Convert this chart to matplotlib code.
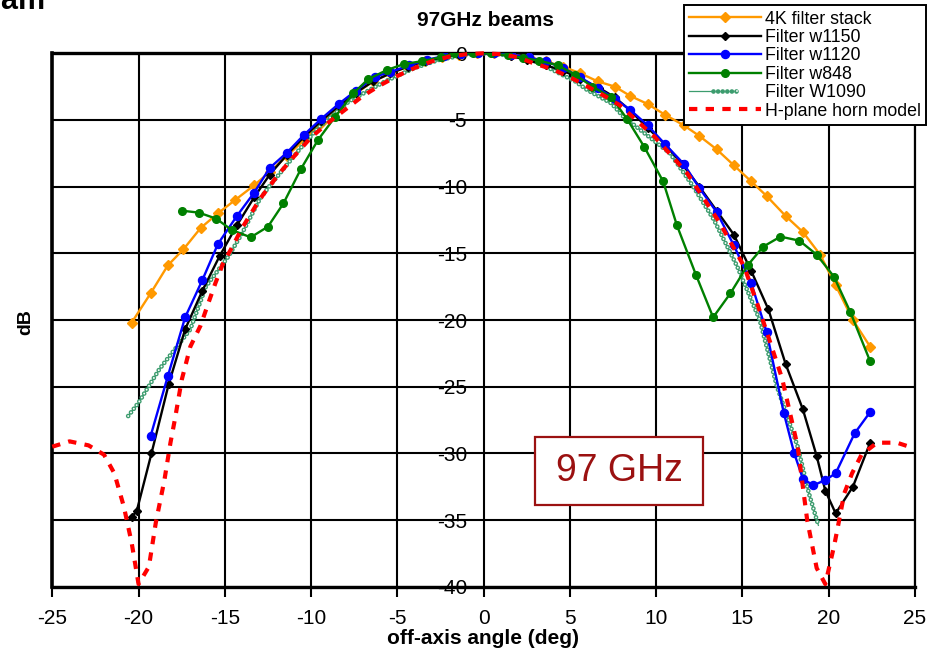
import matplotlib
matplotlib.use("Agg")
import matplotlib.pyplot as plt
from matplotlib.patches import Rectangle
from matplotlib.legend_handler import HandlerTuple

plt.rcParams['font.family'] = ['Liberation Sans', 'DejaVu Sans']
plt.rcParams['lines.scale_dashes'] = False

# ---------------- data ----------------
stack_x = [-20.4, -19.3, -18.3, -17.4, -16.4, -15.4, -14.4, -13.3, -12.4, -11.4, -10.4, -9.4, -8.4, -7.4,
           -6.4, -5.4, -4.4, -3.4, -2.4, -1.4, -0.4, 0.6, 1.6, 2.6, 3.6, 4.6, 5.6, 6.6, 7.6, 8.5, 9.5, 10.5,
           11.6, 12.5, 13.5, 14.5, 15.5, 16.4, 17.5, 18.5, 19.5, 20.4, 21.4, 22.4]
stack_y = [-20.2, -18.0, -15.9, -14.7, -13.1, -12.0, -11.0, -9.9, -8.9, -7.7, -6.5, -5.2, -4.0, -3.0,
           -2.1, -1.5, -1.0, -0.6, -0.3, -0.1, 0.0, 0.0, -0.1, -0.3, -0.6, -1.0, -1.5, -2.1, -2.5, -3.2, -3.8, -4.6,
           -5.4, -6.2, -7.2, -8.4, -9.6, -10.7, -12.2, -13.4, -15.1, -17.4, -20.0, -22.0]

w1150_x = [-20.4, -20.1, -19.25, -18.25, -17.3, -16.3, -15.3, -14.3, -13.3, -12.4, -11.4, -10.4, -9.4, -8.4,
           -7.4, -6.4, -5.4, -4.4, -3.4, -2.4, -1.4, -0.4, 0.6, 1.6, 2.5, 3.6, 4.6, 5.6, 6.7, 7.6, 8.5, 9.5,
           10.5, 11.5, 12.5, 13.5, 14.5, 15.5, 16.5, 17.5, 18.5, 19.3, 19.8, 20.4, 21.4, 22.4]
w1150_y = [-34.8, -34.3, -30.0, -24.8, -20.7, -17.8, -15.2, -12.9, -10.8, -9.1, -7.6, -6.25, -5.05, -3.95,
           -2.95, -2.1, -1.5, -1.0, -0.6, -0.3, -0.1, 0.0, 0.0, -0.2, -0.5, -0.9, -1.3, -1.9, -2.6, -3.3, -4.3, -5.6,
           -6.8, -8.3, -10.0, -11.8, -13.6, -16.3, -19.2, -23.3, -26.7, -30.2, -32.8, -34.5, -32.5, -29.2]

w1120_x = [-19.3, -18.3, -17.3, -16.3, -15.4, -14.3, -13.3, -12.4, -11.4, -10.4, -9.4, -8.4, -7.4, -6.3,
           -5.4, -4.3, -3.3, -2.3, -1.3, -0.3, 0.6, 1.6, 2.6, 3.6, 4.6, 5.6, 6.6, 7.6, 8.5, 9.5, 10.5, 11.6,
           12.5, 13.5, 14.5, 15.5, 16.4, 17.4, 18.0, 18.5, 19.1, 19.8, 20.4, 21.5, 22.4]
w1120_y = [-28.7, -24.2, -19.8, -17.0, -14.3, -12.2, -10.45, -8.6, -7.45, -6.1, -4.9, -3.8, -2.8, -1.75,
           -1.4, -0.9, -0.5, -0.2, -0.05, 0.0, 0.0, -0.1, -0.3, -0.6, -1.1, -1.8, -2.6, -3.4, -4.25, -5.4, -6.8, -8.3,
           -10.1, -11.9, -14.4, -17.2, -20.9, -27.0, -30.0, -31.9, -32.4, -32.0, -31.5, -28.5, -26.9]

w848_x = [-17.5, -16.5, -15.5, -14.6, -13.5, -12.5, -11.6, -10.6, -9.6, -8.6, -7.55, -6.7, -5.6, -4.6,
          -3.6, -2.5, -1.7, -0.6, 0.4, 1.4, 2.3, 3.2, 4.3, 5.3, 6.3, 7.4, 8.3, 9.3, 10.4, 11.2, 12.3, 13.3,
          14.3, 15.3, 16.2, 17.2, 18.3, 19.3, 20.3, 21.25, 22.4]
w848_y = [-11.8, -11.95, -12.4, -13.25, -13.8, -13.0, -11.25, -8.7, -6.5, -4.75, -3.0, -1.95, -1.25, -0.8,
          -0.6, -0.3, 0.0, 0.0, 0.0, -0.15, -0.35, -0.55, -0.9, -1.6, -2.5, -3.3, -4.9, -7.0, -9.6, -12.9, -16.6, -19.8,
          -18.0, -15.9, -14.5, -13.75, -14.05, -15.1, -16.75, -19.4, -23.1]

w1090_x = [-20.6, -20.0, -18.8, -17.9, -17.0, -16.1, -14.8, -14.0, -13.0, -12.5, -10.7, -9.6, -7.8, -5.7,
           -4.0, -2.6, -1.0, 0.0, 1.5, 3.0, 5.3, 6.0, 7.4, 8.1, 10.8, 12.1, 13.35, 14.7, 16.0, 17.0, 18.2,
           18.85, 19.4]
w1090_y = [-27.2, -26.2, -23.7, -22.2, -20.7, -17.5, -15.25, -13.5, -11.0, -10.1, -7.25, -5.6, -3.6, -2.1,
           -1.1, -0.5, -0.1, 0.0, -0.15, -0.6, -2.1, -2.75, -3.75, -4.75, -7.5, -9.9, -12.5, -16.0, -20.0, -25.0, -29.5,
           -33.0, -35.4]

horn_x = [-25.0, -24.0, -22.9, -22.0, -21.4, -20.85, -20.4, -20.0, -19.4, -19.0, -18.5, -18.15, -17.9, -17.5,
          -17.0, -16.4, -16.0, -15.55, -15.1, -14.6, -14.0, -12.95, -11.9, -11.0, -10.0, -9.0, -8.0, -7.0, -6.0,
          -5.0, -4.0, -3.0, -2.0, -1.0, 0.0, 1.0, 2.0, 2.9, 4.0, 5.0, 5.9, 7.0, 7.9, 9.9, 11.8, 13.7, 15.1, 16.05,
          17.3, 18.2, 18.75, 19.3, 19.8, 20.3, 20.5, 20.9, 21.35, 21.9, 22.8, 23.95, 24.9]
horn_y = [-29.5, -29.1, -29.4, -30.1, -31.5, -34.0, -36.7, -39.8, -38.5, -35.2, -32.0, -29.2, -27.5, -24.5,
          -22.0, -20.4, -18.9, -17.25, -15.75, -14.6, -13.1, -10.9, -9.1, -7.75, -6.3, -5.2, -4.2, -3.2, -2.4,
          -1.7, -1.1, -0.6, -0.25, -0.07, 0.0, -0.07, -0.3, -0.75, -1.2, -1.8, -2.4, -3.2, -3.9, -6.25, -9.0, -12.75,
          -16.0, -19.5, -24.4, -29.5, -35.0, -38.6, -39.8, -37.0, -35.7, -33.0, -31.5, -30.1, -29.2, -29.2, -29.6]

labels = ["4K filter stack", "Filter w1150", "Filter w1120", "Filter w848", "Filter W1090", "H-plane horn model"]
x_ticks = [-25, -20, -15, -10, -5, 0, 5, 10, 15, 20, 25]
y_ticks = [0, -5, -10, -15, -20, -25, -30, -35, -40]

# ---------------- figure ----------------
fig = plt.figure(figsize=(9.3, 6.53), dpi=100)
ax = fig.add_axes([0.0562, 0.1015, 0.9277, 0.8169])
ax.set_xlim(-25, 25)
ax.set_ylim(-40, 0)
ax.set_xticks(x_ticks)
ax.set_yticks(y_ticks)
ax.set_xticklabels([str(v) for v in x_ticks])
ax.set_yticklabels([str(v) for v in y_ticks])
ax.grid(True, color='black', lw=1.5, zorder=0)
ax.set_axisbelow(True)

for s in ['top', 'bottom']:
    ax.spines[s].set_linewidth(2.4)
ax.spines['right'].set_linewidth(1.6)
ax.spines['left'].set_position(('data', 0))
ax.spines['left'].set_visible(False)
ax.plot([0, 0], [0, 1], transform=ax.transAxes, color='black', lw=2.6, clip_on=False, zorder=5)

ax.tick_params(axis='x', direction='out', length=7, width=1.5, pad=9, labelsize=15)
ax.tick_params(axis='y', length=0, pad=12, labelsize=15)

ORANGE = '#FF9900'
SEA = '#3C9C6E'

h1, = ax.plot(stack_x, stack_y, color=ORANGE, lw=1.7, marker='D', ms=4.8, zorder=3)
h2, = ax.plot(w1150_x, w1150_y, color='black', lw=1.7, marker='D', ms=4.5, zorder=4)
h3, = ax.plot(w1120_x, w1120_y, color='#0000FF', lw=1.7, marker='o', ms=5.8, zorder=4)
h4, = ax.plot(w848_x, w848_y, color='#008000', lw=1.7, marker='o', ms=5.5, zorder=4)
s1, = ax.plot(w1090_x, w1090_y, color=SEA, lw=0.9, zorder=3)
s2, = ax.plot(w1090_x, w1090_y, color=SEA, lw=3.4, linestyle=(0, (0.01, 3.3)),
              dash_capstyle='round', zorder=3)
s3, = ax.plot(w1090_x, w1090_y, color='white', lw=1.4, linestyle=(0, (0.01, 3.3)),
              dash_capstyle='round', zorder=3)
h6, = ax.plot(horn_x, horn_y, color='#FF0000', lw=3.0, linestyle=(0, (6, 6)),
              dash_capstyle='butt', zorder=5, clip_on=False)

# annotation box
ax.add_patch(Rectangle((2.97, -33.86), 9.76, 5.06, facecolor='white', edgecolor='#9B1111',
                       lw=1.6, zorder=6))
ax.text(7.85, -31.35, "97 GHz", color='#9B1111', fontsize=27, ha='center', va='center', zorder=7)

leg = fig.legend([h1, h2, h3, h4, (s1, s2, s3), h6], labels,
                 handler_map={tuple: HandlerTuple(ndivide=None, pad=0)},
                 loc='upper right', bbox_to_anchor=(0.996, 0.992), borderaxespad=0,
                 fontsize=12.8, labelspacing=0.08, handlelength=4.0, handletextpad=0.25,
                 borderpad=0.3, fancybox=False, framealpha=1, edgecolor='black')
leg.get_frame().set_linewidth(1.4)

fig.text(485 / 930, 1 - 21 / 653, "97GHz beams", fontsize=15, weight='bold', ha='center', va='center')
fig.text(0.5 * (382 + 583) / 930, 1 - 638 / 653, "off-axis angle (deg)", fontsize=15, weight='bold',
         ha='center', va='center')
fig.text(26 / 930, 1 - 322 / 653, "dB", fontsize=14, weight='bold', rotation=90, ha='center', va='center')
fig.text(45 / 930, 1 - 9 / 653, "Beam", fontsize=22, weight='bold', ha='right', va='baseline')

fig.savefig("out.png", dpi=100)
